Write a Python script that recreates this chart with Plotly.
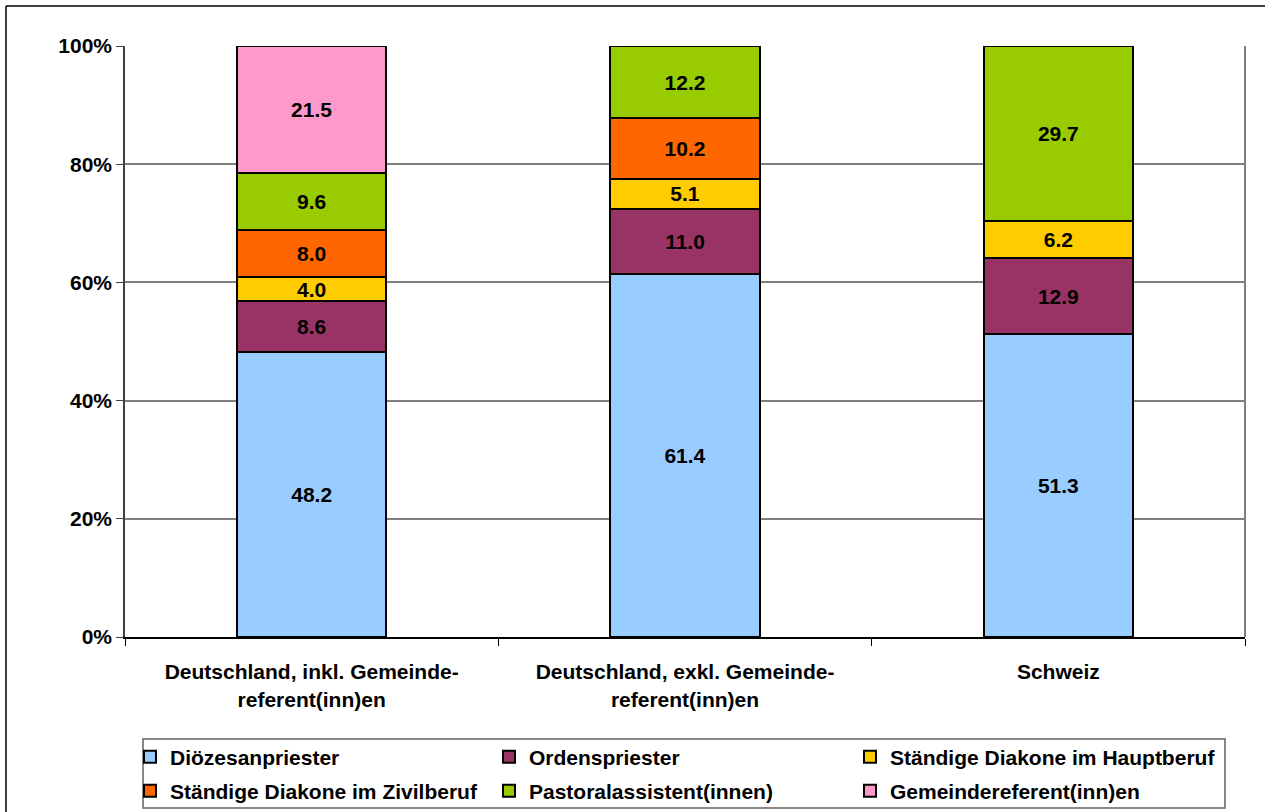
import plotly.graph_objects as go

# Categories (two-line axis labels)
categories = [
    "Deutschland, inkl. Gemeinde-<br>referent(inn)en",
    "Deutschland, exkl. Gemeinde-<br>referent(inn)en",
    "Schweiz",
]

# Shares per group (percent); None = group not present
dioezesanpriester = [48.2, 61.4, 51.3]
ordenspriester = [8.6, 11.0, 12.9]
diakone_hauptberuf = [4.0, 5.1, 6.2]
diakone_zivilberuf = [8.0, 10.2, None]
pastoralassistenten = [9.6, 12.2, 29.7]
gemeindereferenten = [21.5, None, None]

series = [
    ("Diözesanpriester", dioezesanpriester, "#99CCFF"),
    ("Ordenspriester", ordenspriester, "#993366"),
    ("Ständige Diakone im Hauptberuf", diakone_hauptberuf, "#FFCC00"),
    ("Ständige Diakone im Zivilberuf", diakone_zivilberuf, "#FF6600"),
    ("Pastoralassistent(innen)", pastoralassistenten, "#99CC00"),
    ("Gemeindereferent(inn)en", gemeindereferenten, "#FF99CC"),
]

FONT = "Liberation Sans, Arial, sans-serif"

# plot-area geometry in pixels (used to place paper-referenced decorations)
W, H = 1265, 812
L, R, T, B = 125, 20, 46, 175
PW, PH = W - L - R, H - T - B


def px_x(x):
    return (x - L) / PW


def px_y(y):
    return (H - B - y) / PH


# legend grid: three columns, two rows (pixel positions of each entry)
legend_cols = [130, 489, 850]
legend_rows = [757, 791]
legend_ids = ["legend", "legend2", "legend3", "legend4", "legend5", "legend6"]

fig = go.Figure()
for (name, vals, color), lg in zip(series, legend_ids):
    fig.add_trace(go.Bar(
        name=name,
        x=categories,
        y=vals,
        text=["" if v is None else f"{v:.1f}" for v in vals],
        texttemplate="%{text}",
        textposition="inside",
        insidetextanchor="middle",
        constraintext="none",
        textangle=0,
        textfont=dict(family=FONT, size=21, color="black", weight="bold"),
        marker=dict(color=color, line=dict(color="black", width=2)),
        legend=lg,
        hoverinfo="skip",
    ))

legend_layout = {}
for i, lg in enumerate(legend_ids):
    col, row = i % 3, i // 3
    legend_layout[lg] = dict(
        orientation="v",
        xref="container",
        yref="container",
        xanchor="left",
        yanchor="middle",
        x=legend_cols[col] / W,
        y=(H - legend_rows[row]) / H,
        bgcolor="rgba(0,0,0,0)",
        borderwidth=0,
        font=dict(family=FONT, size=21, color="black", weight="bold"),
    )

fig.update_layout(
    width=W,
    height=H,
    margin=dict(l=L, r=R, t=T, b=B, pad=0, autoexpand=False),
    paper_bgcolor="white",
    plot_bgcolor="white",
    barmode="stack",
    barnorm="percent",
    bargap=0.6,
    showlegend=True,
    **legend_layout,
    xaxis=dict(
        type="category",
        showline=True,
        linecolor="black",
        linewidth=2,
        ticks="outside",
        tickson="boundaries",
        ticklen=7,
        tickcolor="black",
        tickwidth=1,
        tickfont=dict(family=FONT, size=21, color="black", weight="bold"),
        ticklabelstandoff=15,
        showgrid=False,
        automargin=False,
    ),
    yaxis=dict(
        range=[0, 100],
        dtick=20,
        ticksuffix="%",
        showline=True,
        linecolor="#404040",
        linewidth=1.5,
        ticks="outside",
        ticklen=7,
        tickcolor="#404040",
        tickfont=dict(family=FONT, size=21, color="black", weight="bold"),
        showgrid=True,
        gridcolor="#808080",
        gridwidth=1.5,
        zeroline=False,
        automargin=False,
    ),
    shapes=[
        # right edge of the plot area
        dict(type="line", xref="paper", yref="paper", x0=1, x1=1, y0=0, y1=1,
             line=dict(color="#808080", width=2), layer="below"),
        # legend frame
        dict(type="rect", xref="paper", yref="paper",
             x0=px_x(143), x1=px_x(1225), y0=px_y(739), y1=px_y(808),
             line=dict(color="#606060", width=1.5)),
        # outer chart frame (top and left)
        dict(type="line", xref="paper", yref="paper",
             x0=px_x(6), x1=px_x(1265), y0=px_y(6), y1=px_y(6),
             line=dict(color="black", width=1.5)),
        dict(type="line", xref="paper", yref="paper",
             x0=px_x(6), x1=px_x(6), y0=px_y(6), y1=px_y(812),
             line=dict(color="black", width=1.5)),
    ],
)

fig.write_html("out.html")
